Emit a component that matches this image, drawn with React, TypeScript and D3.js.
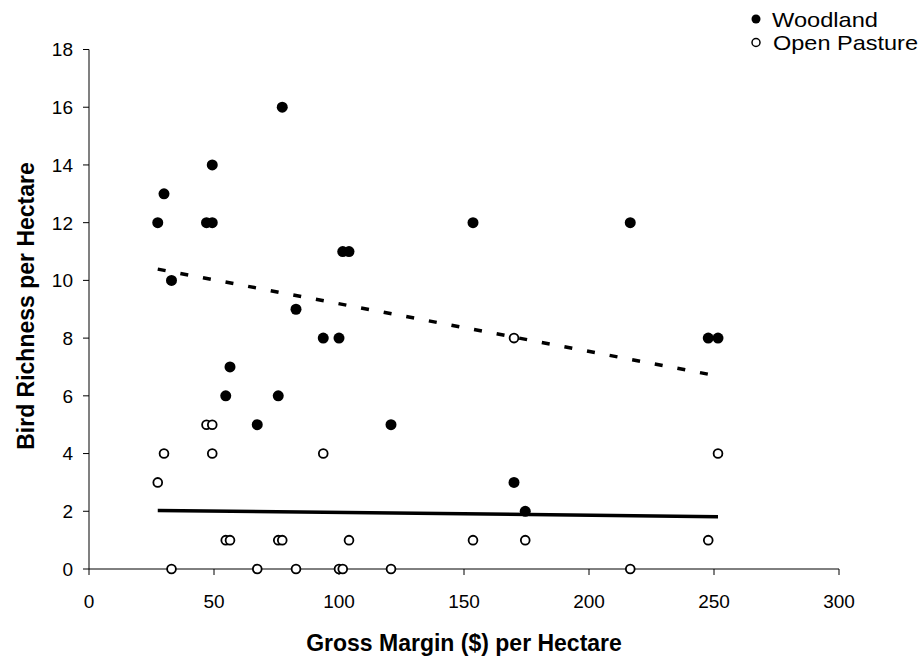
import React from "react";
import * as d3 from "d3";

const grossMargin = [27.5, 30, 33, 47, 49.3, 49.3, 54.7, 56.4, 67.3, 75.7, 77.3, 82.8, 93.7, 100, 101.5, 104, 120.8, 153.6, 170, 174.5, 216.5, 247.7, 251.6];
const woodland = [12, 13, 10, 12, 14, 12, 6, 7, 5, 6, 16, 9, 8, 8, 11, 11, 5, 12, 3, 2, 12, 8, 8];
const openPasture = [3, 4, 0, 5, 5, 4, 1, 1, 0, 1, 1, 0, 4, 0, 0, 1, 0, 1, 8, 1, 0, 1, 4];
const xTicks = [0, 50, 100, 150, 200, 250, 300];
const yTicks = [0, 2, 4, 6, 8, 10, 12, 14, 16, 18];
const seriesNames = ["Woodland", "Open Pasture"];

const W = 923;
const H = 660;
const FONT = "'Liberation Sans', Arial, Helvetica, sans-serif";

function linreg(xs: number[], ys: number[]) {
  const mx = d3.mean(xs)!;
  const my = d3.mean(ys)!;
  let sxy = 0, sxx = 0;
  xs.forEach((x, i) => {
    sxy += (x - mx) * (ys[i] - my);
    sxx += (x - mx) * (x - mx);
  });
  const b = sxy / sxx;
  const a = my - b * mx;
  return (x: number) => a + b * x;
}

export default function App() {
  const x = d3.scaleLinear().domain([0, 300]).range([89, 839]);
  const y = d3.scaleLinear().domain([0, 18]).range([569, 49.5]);
  const x0 = d3.min(grossMargin)!;
  const x1 = d3.max(grossMargin)!;
  const fW = linreg(grossMargin, woodland);
  const fO = linreg(grossMargin, openPasture);
  const line = d3.line<[number, number]>().x(d => x(d[0])).y(d => y(d[1]));

  return (
    <svg width={W} height={H} style={{ position: "absolute", left: 0, top: 0, background: "#fff" }} fontFamily={FONT}>
      {/* y axis */}
      <line x1={x(0)} x2={x(0)} y1={y(0)} y2={y(18)} stroke="#808080" strokeWidth={2} />
      {yTicks.map(t => (
        <g key={"y" + t}>
          <line x1={x(0) - 6} x2={x(0)} y1={y(t)} y2={y(t)} stroke="#000" strokeWidth={1} />
          <text x={x(0) - 16} y={y(t)} dy="0.36em" textAnchor="end" fontSize={19} fill="#000">{t}</text>
        </g>
      ))}
      {/* x axis */}
      <line x1={x(0)} x2={x(300)} y1={y(0)} y2={y(0)} stroke="#000" strokeWidth={1} />
      {xTicks.map(t => (
        <g key={"x" + t}>
          <line x1={x(t)} x2={x(t)} y1={y(0)} y2={y(0) + 6} stroke="#000" strokeWidth={1} />
          <text x={x(t)} y={608} textAnchor="middle" fontSize={19} fill="#000">{t}</text>
        </g>
      ))}
      {/* axis titles */}
      <text x={464} y={651} textAnchor="middle" fontSize={23} fontWeight="bold" fill="#000">Gross Margin ($) per Hectare</text>
      <text transform="translate(34,306) rotate(-90)" textAnchor="middle" fontSize={23} fontWeight="bold" fill="#000">Bird Richness per Hectare</text>

      {/* trendlines */}
      <path d={line([[x0, fW(x0)], [x1, fW(x1)]])!} stroke="#000" strokeWidth={3.5} strokeDasharray="8,15" fill="none" />
      <path d={line([[x0, fO(x0)], [x1, fO(x1)]])!} stroke="#000" strokeWidth={3.5} fill="none" />

      {/* points */}
      {grossMargin.map((g, i) => (
        <circle key={"w" + i} cx={x(g)} cy={y(woodland[i])} r={5.5} fill="#000" />
      ))}
      {grossMargin.map((g, i) => (
        <circle key={"o" + i} cx={x(g)} cy={y(openPasture[i])} r={4.4} fill="#fff" stroke="#000" strokeWidth={1.8} />
      ))}

      {/* legend */}
      <circle cx={756} cy={19} r={4.5} fill="#000" />
      <text x={772} y={26.5} fontSize={21} textLength={106} lengthAdjust="spacingAndGlyphs" fill="#000">{seriesNames[0]}</text>
      <circle cx={756} cy={42.5} r={4} fill="#fff" stroke="#000" strokeWidth={1.5} />
      <text x={773} y={50} fontSize={21} textLength={145} lengthAdjust="spacingAndGlyphs" fill="#000">{seriesNames[1]}</text>
    </svg>
  );
}
